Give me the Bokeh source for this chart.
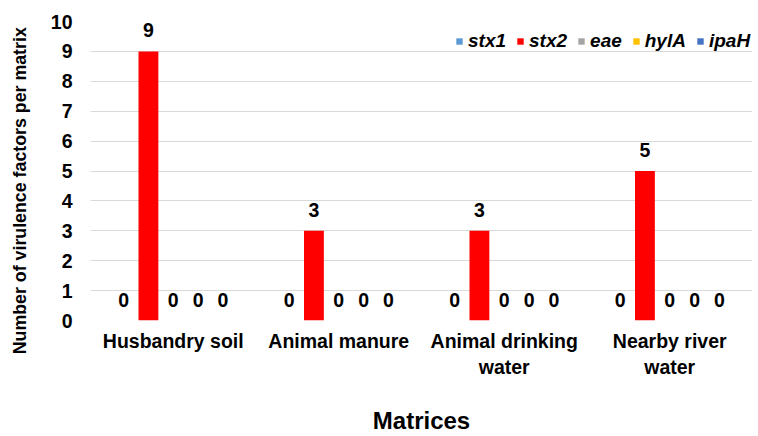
from bokeh.plotting import figure
from bokeh.models import (ColumnDataSource, FactorRange, Range1d, FixedTicker, Legend, LegendItem,
                          LinearAxis)
from bokeh.transform import dodge
from bokeh.core.properties import value
from bokeh.embed import file_html
from bokeh.resources import INLINE

categories = ["Husbandry soil", "Animal manure", "Animal drinking\nwater", "Nearby river\nwater"]
series_names = ["stx1", "stx2", "eae", "hylA", "ipaH"]
stx1 = [0, 0, 0, 0]
stx2 = [9, 3, 3, 5]
eae = [0, 0, 0, 0]
hylA = [0, 0, 0, 0]
ipaH = [0, 0, 0, 0]
colors = ["#5B9BD5", "#FF0000", "#A5A5A5", "#FFC000", "#4472C4"]
y_ticks = [0, 1, 2, 3, 4, 5, 6, 7, 8, 9, 10]
y_title = "Number of virulence factors per matrix"

FONT = "Liberation Sans"
FS = "19.5px"

data = {"cat": categories}
for name, vals in zip(series_names, [stx1, stx2, eae, hylA, ipaH]):
    data[name] = vals
    data[name + "_lbl"] = [str(v) for v in vals]
src = ColumnDataSource(data)

p = figure(width=758, height=436, x_range=FactorRange(factors=categories),
           y_range=Range1d(0, 10), output_backend="svg", toolbar_location=None,
           min_border_left=90, min_border_right=6, min_border_top=21, min_border_bottom=115)
p.outline_line_color = None
p.xgrid.grid_line_color = None
p.ygrid.grid_line_color = "#D9D9D9"
p.ygrid.grid_line_width = 1

offsets = [-0.3, -0.15, 0.0, 0.15, 0.3]
items = []
for name, off, col in zip(series_names, offsets, colors):
    r = p.vbar(x=dodge("cat", off, range=p.x_range), top=name, width=0.12, source=src,
               fill_color=col, line_color=None)
    items.append(LegendItem(label=name, renderers=[r]))
    p.text(x=dodge("cat", off, range=p.x_range), y=name, text=name + "_lbl", source=src,
           text_align="center", text_baseline="bottom", y_offset=-14,
           text_font=value(FONT), text_font_style="bold", text_font_size=FS, text_color="#000000")

legend = Legend(items=items, orientation="horizontal", location=(365, 268),
                glyph_width=8, glyph_height=8, label_standoff=5, spacing=10,
                padding=0, margin=0, border_line_color=None, background_fill_alpha=0,
                label_text_font=FONT, label_text_font_style="bold italic",
                label_text_font_size="19px", label_text_color="#000000")
p.add_layout(legend, "center")

p.yaxis.ticker = FixedTicker(ticks=y_ticks)
p.yaxis.axis_line_color = None
p.yaxis.major_tick_line_color = None
p.yaxis.major_tick_out = 0
p.yaxis.major_tick_in = 0
p.yaxis.minor_tick_line_color = None
p.yaxis.major_label_standoff = 18
p.yaxis.major_label_text_font = FONT
p.yaxis.major_label_text_font_style = "bold"
p.yaxis.major_label_text_font_size = FS
p.yaxis.major_label_text_color = "#000000"

# trailing no-break spaces shift the centred title down, as in the reference
title_axis = LinearAxis(ticker=FixedTicker(ticks=[]),
                        axis_label=y_title + "\u00a0" * 8,
                        axis_label_standoff=18, axis_label_text_font=FONT,
                        axis_label_text_font_style="bold", axis_label_text_font_size="17.8px",
                        axis_label_text_color="#000000", axis_line_color=None,
                        major_tick_line_color=None, minor_tick_line_color=None,
                        major_tick_out=0, major_tick_in=0, minor_tick_out=0,
                        major_label_standoff=0)
p.add_layout(title_axis, "left")

p.xaxis.axis_line_color = None
p.xaxis.major_tick_line_color = None
p.xaxis.major_tick_out = 0
p.xaxis.major_tick_in = 0
p.xaxis.minor_tick_line_color = None
p.xaxis.major_label_standoff = 9
p.xaxis.major_label_text_font = FONT
p.xaxis.major_label_text_font_style = "bold"
p.xaxis.major_label_text_font_size = FS
p.xaxis.major_label_text_color = "#000000"
p.xaxis.axis_label = "Matrices"
p.xaxis.axis_label_text_font = FONT
p.xaxis.axis_label_text_font_style = "bold"
p.xaxis.axis_label_text_font_size = "24px"
p.xaxis.axis_label_text_line_height = 1.0
p.xaxis.axis_label_text_color = "#000000"
p.xaxis.axis_label_standoff = 26

open("out.html", "w").write(file_html(p, INLINE))
